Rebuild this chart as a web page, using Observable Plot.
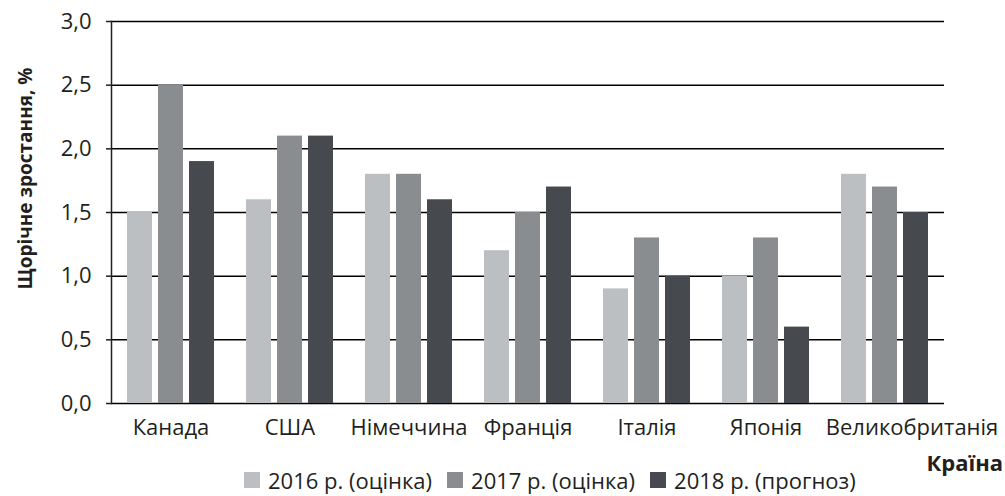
<!DOCTYPE html>
<html>
<head>
<meta charset="utf-8">
<script src="https://cdn.jsdelivr.net/npm/d3@7"></script>
<script src="https://cdn.jsdelivr.net/npm/@observablehq/plot@0.6"></script>
<style>
  html, body { margin: 0; padding: 0; background: #fff; }
  body { width: 1005px; height: 496px; overflow: hidden; font-family: "Open Sans", sans-serif; color: #231f20; }
  #chart svg { display: block; }
  #xlabel { margin-top: 13px; height: 18px; line-height: 18px; font-size: 22px; font-weight: bold; text-align: right; padding-right: 2px; }
  #legend { height: 18px; line-height: 18px; font-size: 22px; padding-left: 244px; display: flex; align-items: center; white-space: nowrap; }
  #legend .item { display: inline-flex; align-items: center; margin-right: 15px; }
  #legend .sw { width: 16px; height: 16px; margin-right: 8px; display: inline-block; }
</style>
</head>
<body>
<div id="chart"></div>
<div id="xlabel">Країна</div>
<div id="legend"></div>
<script>
const countries = ["Канада", "США", "Німеччина", "Франція", "Італія", "Японія", "Великобританія"];
const series = ["2016 р. (оцінка)", "2017 р. (оцінка)", "2018 р. (прогноз)"];
const v2016 = [1.5, 1.6, 1.8, 1.2, 0.9, 1.0, 1.8];
const v2017 = [2.5, 2.1, 1.8, 1.5, 1.3, 1.3, 1.7];
const v2018 = [1.9, 2.1, 1.6, 1.7, 1.0, 0.6, 1.5];
const colors = ["#bcbfc1", "#898d90", "#464a4f"];
const yTicks = [0, 0.5, 1, 1.5, 2, 2.5, 3];
const yTitle = "Щорічне зростання, %";

const seriesValues = [v2016, v2017, v2018];
const data = countries.flatMap((c, i) => seriesValues.map((arr, j) => ({country: c, series: series[j], value: arr[i]})));
const fmt = d => d.toFixed(1).replace(".", ",");
const lastCountry = countries[countries.length - 1];

const chart = Plot.plot({
  width: 1005,
  height: 440,
  marginLeft: 108,
  marginRight: 58,
  marginTop: 21,
  marginBottom: 37,
  style: {fontFamily: "'Open Sans', sans-serif", fontSize: "22px", color: "#231f20", background: "#fff", overflow: "visible"},
  fx: {domain: countries, padding: 0, label: null, axis: null},
  x: {domain: series, axis: null, paddingInner: 0.2, paddingOuter: 0.51},
  y: {domain: [0, 3], label: null},
  color: {domain: series, range: colors},
  marks: [
    Plot.gridY(yTicks, {stroke: "#000", strokeOpacity: 1, strokeWidth: 1.5}),
    Plot.barY(data, {fx: "country", x: "series", y: "value", fill: "series"}),
    Plot.frame({anchor: "left", facetAnchor: "left", stroke: "#231f20", strokeWidth: 1.5}),
    Plot.axisY(yTicks, {tickFormat: fmt, tickSize: 5, tickPadding: 15, label: null, fontSize: 22, stroke: "#231f20", strokeWidth: 1.5}),
    Plot.axisFx({anchor: "bottom", tickSize: 0, tickPadding: 16, label: null, fontSize: 22, tickFormat: d => d === lastCountry ? "" : d}),
    Plot.axisFx({anchor: "bottom", tickSize: 0, tickPadding: 16, label: null, fontSize: 22, dx: 27, tickFormat: d => d === lastCountry ? d : ""}),
    Plot.text([yTitle], {text: d => d, frameAnchor: "left", textAnchor: "middle", rotate: -90, dx: -86, dy: -34, fontWeight: "bold", fontSize: 19, facetAnchor: "left", fill: "#231f20"})
  ]
});
document.getElementById("chart").appendChild(chart);

const legend = document.getElementById("legend");
series.forEach((s, i) => {
  const item = document.createElement("span");
  item.className = "item";
  const sw = document.createElement("span");
  sw.className = "sw";
  sw.style.background = chart.scale("color").apply(s);
  item.appendChild(sw);
  item.appendChild(document.createTextNode(s));
  legend.appendChild(item);
});
</script>
</body>
</html>
